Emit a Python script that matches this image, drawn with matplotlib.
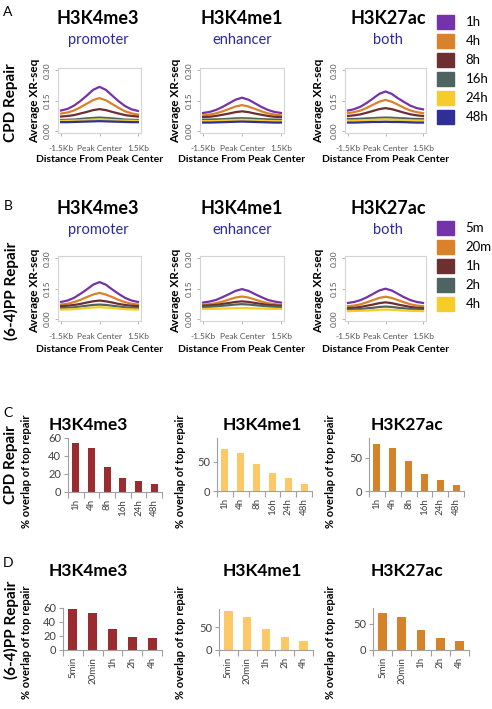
import matplotlib
matplotlib.use("Agg")
import numpy as np
import matplotlib.pyplot as plt
from matplotlib.patches import Patch

plt.rcParams['font.family'] = ['Lato', 'DejaVu Sans']

# ---- data: XR-seq profiles around peak center (kb) ----
dist_kb = [-1.5, -1.25, -1.0, -0.75, -0.5, -0.25, 0.0, 0.25, 0.5, 0.75, 1.0, 1.25, 1.5]

cpd_times = ['1h', '4h', '8h', '16h', '24h', '48h']
cpd_colors = ['#7433a8', '#d9822b', '#6d2f2f', '#4e6462', '#f5cc2a', '#2f2f96']

cpd_k4me3 = [
    [.100, .108, .124, .147, .174, .203, .218, .203, .174, .146, .122, .106, .098],
    [.085, .090, .100, .116, .134, .152, .162, .151, .132, .113, .096, .086, .080],
    [.070, .073, .077, .085, .093, .102, .107, .102, .093, .085, .077, .073, .070],
    [.053, .054, .055, .058, .061, .063, .065, .063, .061, .058, .055, .054, .053],
    [.048, .049, .050, .051, .053, .055, .056, .055, .053, .051, .050, .049, .048],
    [.042, .042, .043, .044, .045, .046, .047, .046, .045, .044, .043, .042, .042],
]
cpd_k4me1 = [
    [.088, .093, .103, .118, .136, .154, .164, .154, .136, .118, .103, .093, .088],
    [.076, .080, .086, .096, .108, .120, .127, .120, .108, .096, .086, .080, .076],
    [.067, .069, .073, .079, .085, .092, .096, .092, .085, .079, .073, .069, .067],
    [.054, .055, .056, .057, .059, .061, .062, .061, .059, .057, .056, .055, .054],
    [.047, .047, .048, .050, .051, .053, .054, .053, .051, .050, .048, .047, .047],
    [.040, .040, .041, .042, .043, .044, .045, .044, .043, .042, .041, .040, .040],
]
cpd_k27ac = [
    [.100, .107, .119, .138, .160, .183, .195, .183, .161, .142, .124, .112, .106],
    [.087, .092, .100, .113, .129, .144, .153, .144, .129, .113, .100, .092, .087],
    [.073, .076, .081, .089, .098, .107, .112, .107, .098, .089, .081, .076, .073],
    [.058, .058, .059, .061, .062, .064, .065, .064, .062, .061, .059, .058, .058],
    [.050, .050, .051, .052, .054, .055, .056, .055, .054, .052, .051, .050, .050],
    [.040, .040, .041, .042, .043, .043, .044, .043, .043, .042, .041, .040, .040],
]

pp_times = ['5m', '20m', '1h', '2h', '4h']
pp_colors = ['#7433a8', '#d9822b', '#6d2f2f', '#4e6462', '#f5cc2a']

pp_k4me3 = [
    [.083, .090, .103, .123, .145, .169, .182, .169, .145, .123, .103, .090, .083],
    [.070, .074, .082, .093, .107, .120, .128, .120, .107, .093, .082, .074, .070],
    [.062, .064, .068, .073, .080, .086, .090, .086, .080, .073, .068, .064, .062],
    [.053, .054, .056, .060, .064, .068, .070, .068, .064, .060, .056, .054, .053],
    [.045, .046, .047, .050, .053, .055, .057, .055, .053, .050, .047, .046, .045],
]
pp_k4me1 = [
    [.080, .085, .093, .107, .122, .138, .147, .138, .122, .107, .093, .085, .080],
    [.069, .072, .077, .085, .095, .105, .110, .105, .095, .085, .077, .072, .069],
    [.064, .066, .068, .073, .078, .083, .086, .083, .078, .073, .068, .066, .064],
    [.058, .059, .061, .064, .067, .070, .072, .070, .067, .064, .061, .059, .058],
    [.048, .048, .049, .050, .051, .052, .053, .052, .051, .050, .049, .048, .048],
]
pp_k27ac = [
    [.078, .083, .092, .106, .123, .140, .149, .140, .123, .106, .092, .083, .078],
    [.062, .065, .071, .081, .092, .103, .109, .103, .092, .081, .071, .065, .062],
    [.052, .054, .058, .064, .070, .077, .081, .077, .070, .064, .058, .054, .052],
    [.045, .046, .048, .051, .054, .058, .060, .058, .054, .051, .048, .046, .045],
    [.037, .038, .039, .040, .042, .044, .045, .044, .042, .040, .039, .038, .037],
]

# ---- data: % overlap of top repair ----
cpd_bar_labels = ['1h', '4h', '8h', '16h', '24h', '48h']
cpd_overlap_k4me3 = [54, 48.5, 27.5, 16, 12, 8.5]
cpd_overlap_k4me1 = [72, 65, 46, 31, 22, 12]
cpd_overlap_k27ac = [71, 65, 45, 26, 17, 8.5]

pp_bar_labels = ['5min', '20min', '1h', '2h', '4h']
pp_overlap_k4me3 = [58.5, 53, 30, 18, 17.5]
pp_overlap_k4me1 = [85, 72, 46, 29, 20]
pp_overlap_k27ac = [71, 62, 38, 23, 17]

marks = ['H3K4me3', 'H3K4me1', 'H3K27ac']
regions = ['promoter', 'enhancer', 'both']
bar_colors = ['#9a2b2e', '#fec867', '#d4832a']

W, H = 492, 709
fig = plt.figure(figsize=(W / 100, H / 100), dpi=100)


def box(x0, y0, x1, y1):
    return [x0 / W, 1 - y1 / H, (x1 - x0) / W, (y1 - y0) / H]


def ftext(x, y, s, **kw):
    fig.text(x / W, 1 - y / H, s, ha='center', va='center', **kw)


def profile(ax, curves, colors):
    for vals, c in zip(curves, colors):
        ax.plot(dist_kb, vals, color=c, lw=1.6)
    ax.set_xlim(-1.62, 1.62)
    ax.set_ylim(-0.012, 0.312)
    ax.set_xticks([-1.5, 0, 1.5])
    ax.set_xticklabels(['-1.5Kb', 'Peak Center', '1.5Kb'])
    ax.set_yticks([0, 0.15, 0.30])
    ax.set_yticklabels(['0.00', '0.15', '0.30'], rotation=90, va='center')
    ax.tick_params(labelsize=6, colors='#aaaaaa', labelcolor='#555555', length=2.5, width=0.6)
    ax.tick_params(axis='x', pad=6)
    ax.tick_params(axis='y', pad=3)
    for s in ax.spines.values():
        s.set_color('#d4d4d4')
        s.set_linewidth(0.8)


def bars(ax, labels, vals, color, ymax, yticks):
    x = np.arange(len(labels))
    ax.bar(x, vals, width=0.45, color=color)
    ax.set_xlim(-0.5, len(labels) - 0.5)
    ax.set_ylim(0, ymax)
    ax.set_yticks(yticks)
    ax.set_xticks(list(x - 0.5) + [len(labels) - 0.5])
    ax.set_xticklabels([])
    ax.set_xticks(x, minor=True)
    ax.set_xticklabels(labels, minor=True, rotation=90)
    ax.tick_params(axis='x', which='major', length=4, color='#a0a0a0', width=0.8)
    ax.tick_params(axis='x', which='minor', length=0, pad=5, labelsize=7, labelcolor='#404040')
    ax.tick_params(axis='y', length=3, color='#a0a0a0', width=0.8, labelsize=8, labelcolor='#404040', pad=2)
    for s in ['top', 'right']:
        ax.spines[s].set_visible(False)
    for s in ['left', 'bottom']:
        ax.spines[s].set_color('#a0a0a0')
        ax.spines[s].set_linewidth(0.8)


# ---- panel A / B: profiles ----
prof_boxes_a = [(58, 68, 141, 133), (200, 68, 284, 133), (345, 68, 426, 133)]
prof_boxes_b = [(58, 256, 141, 321), (200, 256, 284, 321), (345, 256, 426, 321)]
title_x = [98, 242, 388]
ylab_x = [35, 176, 319]

for i, curves in enumerate([cpd_k4me3, cpd_k4me1, cpd_k27ac]):
    ax = fig.add_axes(box(*prof_boxes_a[i]))
    profile(ax, curves, cpd_colors)
    ftext(title_x[i], 18, marks[i], fontsize=13, fontweight='bold')
    ftext(title_x[i], 40, regions[i], fontsize=10.5, color='#2b2a9c')
    ftext(ylab_x[i], 101, 'Average XR-seq', fontsize=8.5, fontweight='bold', rotation=90)
    ftext((prof_boxes_a[i][0] + prof_boxes_a[i][2]) / 2, 160, 'Distance From Peak Center',
          fontsize=7.5, fontweight='bold')

for i, curves in enumerate([pp_k4me3, pp_k4me1, pp_k27ac]):
    ax = fig.add_axes(box(*prof_boxes_b[i]))
    profile(ax, curves, pp_colors)
    ftext(title_x[i], 208, marks[i], fontsize=13, fontweight='bold')
    ftext(title_x[i], 230, regions[i], fontsize=10.5, color='#2b2a9c')
    ftext(ylab_x[i], 291, 'Average XR-seq', fontsize=8.5, fontweight='bold', rotation=90)
    ftext((prof_boxes_b[i][0] + prof_boxes_b[i][2]) / 2, 350, 'Distance From Peak Center',
          fontsize=7.5, fontweight='bold')

fig.legend([Patch(color=c) for c in cpd_colors], cpd_times, loc='upper left',
           bbox_to_anchor=(430 / W, 1 - 8 / H), frameon=False, fontsize=9.5,
           handlelength=1.3, handleheight=1.3, labelspacing=0.35, handletextpad=0.9, borderpad=0)
fig.legend([Patch(color=c) for c in pp_colors], pp_times, loc='upper left',
           bbox_to_anchor=(430 / W, 1 - 214 / H), frameon=False, fontsize=9.5,
           handlelength=1.3, handleheight=1.3, labelspacing=0.35, handletextpad=0.9, borderpad=0)

# ---- panel C / D: bars ----
bar_boxes_c = [(68, 438, 162, 492), (217, 438, 312, 491), (369, 438, 464, 491)]
bar_boxes_d = [(63, 608, 162, 650), (219, 609, 313, 650), (373, 608, 469, 650)]
bar_title_x = [88, 262, 407]
bar_ylab_x = [27, 180, 330]
ylims = [(60, [0, 20, 40, 60]), (90, [0, 50]), (80, [0, 50])]

for i, vals in enumerate([cpd_overlap_k4me3, cpd_overlap_k4me1, cpd_overlap_k27ac]):
    ax = fig.add_axes(box(*bar_boxes_c[i]))
    bars(ax, cpd_bar_labels, vals, bar_colors[i], *ylims[i])
    ftext(bar_title_x[i], 425, marks[i], fontsize=12.5, fontweight='bold')
    ftext(bar_ylab_x[i], 471, '% overlap of top repair', fontsize=8, fontweight='bold', rotation=90)

for i, vals in enumerate([pp_overlap_k4me3, pp_overlap_k4me1, pp_overlap_k27ac]):
    ax = fig.add_axes(box(*bar_boxes_d[i]))
    bars(ax, pp_bar_labels, vals, bar_colors[i], *ylims[i])
    ftext(bar_title_x[i], 571, marks[i], fontsize=12.5, fontweight='bold')
    ftext(bar_ylab_x[i], 642, '% overlap of top repair', fontsize=8, fontweight='bold', rotation=90)

# row labels and panel letters
ftext(11, 103, 'CPD Repair', fontsize=11, fontweight='bold', rotation=90)
ftext(11, 291, '(6-4)PP Repair', fontsize=11, fontweight='bold', rotation=90)
ftext(11, 465, 'CPD Repair', fontsize=11, fontweight='bold', rotation=90)
ftext(11, 630, '(6-4)PP Repair', fontsize=11, fontweight='bold', rotation=90)
for letter, y in [('A', 12), ('B', 206), ('C', 413), ('D', 563)]:
    ftext(8, y, letter, fontsize=10)

fig.savefig('out.png', dpi=100)
